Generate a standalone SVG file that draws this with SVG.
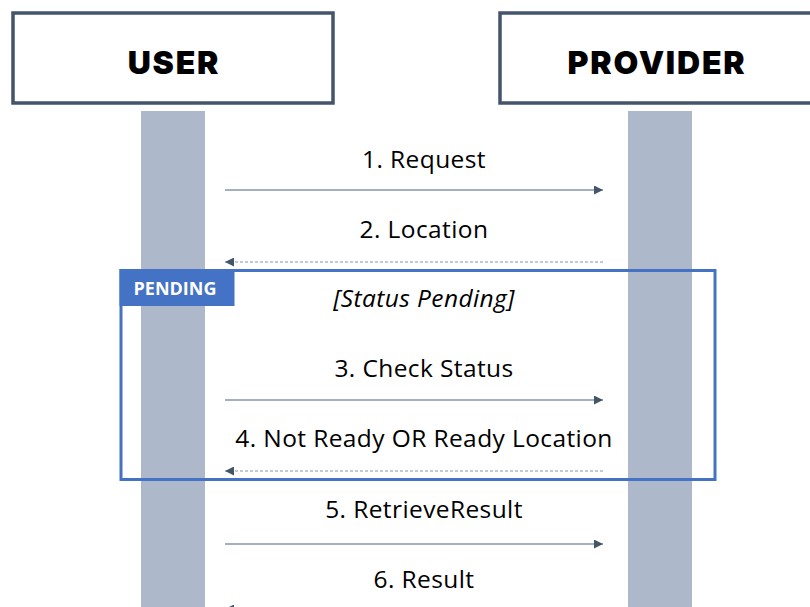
<svg xmlns="http://www.w3.org/2000/svg" width="810" height="607" viewBox="0 0 810 607">
<defs>
<style>
.actor{fill:#fff;stroke:#44546a;stroke-width:3.5}
.title{font-family:Inter,"Liberation Sans",sans-serif;font-weight:900;font-size:32px;fill:#000;text-anchor:middle;letter-spacing:1.8px}
.bar{fill:#adb9ca}
.lbl{font-family:"Open Sans","Liberation Sans",sans-serif;font-size:24.5px;fill:#000;text-anchor:middle;letter-spacing:0.4px}
.msg{stroke:#8496b0;stroke-width:1.3;fill:none}
.ret{stroke:#8496b0;stroke-width:1.2;fill:none;stroke-dasharray:3 2}
</style>
<marker id="ah" viewBox="0 0 10 10" refX="10" refY="5" markerWidth="12" markerHeight="9" markerUnits="userSpaceOnUse" orient="auto">
<path d="M0,0 L10,5 L0,10 Z" fill="#44546a"/>
</marker>
</defs>
<rect width="810" height="607" fill="#fff"/>
<g id="user">
<rect class="actor" x="13" y="13" width="320" height="90"/>
<text class="title" x="174" y="74">USER</text>
<rect class="bar" x="141" y="111" width="64" height="496"/>
</g>
<g id="provider">
<rect class="actor" x="500" y="13" width="320" height="90"/>
<text class="title" x="657" y="74">PROVIDER</text>
<rect class="bar" x="628" y="111" width="64" height="496"/>
</g>
<g id="connectors">
<line class="msg" x1="225" y1="190" x2="603" y2="190" marker-end="url(#ah)"/>
<line class="ret" x1="603" y1="262" x2="225" y2="262" marker-end="url(#ah)"/>
<line class="msg" x1="225" y1="400" x2="603" y2="400" marker-end="url(#ah)"/>
<line class="ret" x1="603" y1="471" x2="225" y2="471" marker-end="url(#ah)"/>
<line class="msg" x1="225" y1="544" x2="603" y2="544" marker-end="url(#ah)"/>
<line class="ret" x1="603" y1="609" x2="225" y2="609" marker-end="url(#ah)"/>
</g>
<g id="labels">
<text class="lbl" x="424" y="168">1. Request</text>
<text class="lbl" x="424" y="238">2. Location</text>
<text class="lbl" x="424" y="377">3. Check Status</text>
<text class="lbl" x="424" y="447">4. Not Ready OR Ready Location</text>
<text class="lbl" x="424" y="518">5. RetrieveResult</text>
<text class="lbl" x="424" y="588">6. Result</text>
</g>
<g id="pending">
<rect x="121" y="270.5" width="594" height="209" fill="none" stroke="#4472c4" stroke-width="3"/>
<rect x="119.5" y="269" width="115" height="37" fill="#4472c4"/>
<text x="175" y="295" font-family="'Open Sans','Liberation Sans',sans-serif" font-weight="700" font-size="18" fill="#fff" text-anchor="middle">PENDING</text>
<text class="lbl" x="424" y="307" font-style="italic">[Status Pending]</text>
</g>
</svg>
